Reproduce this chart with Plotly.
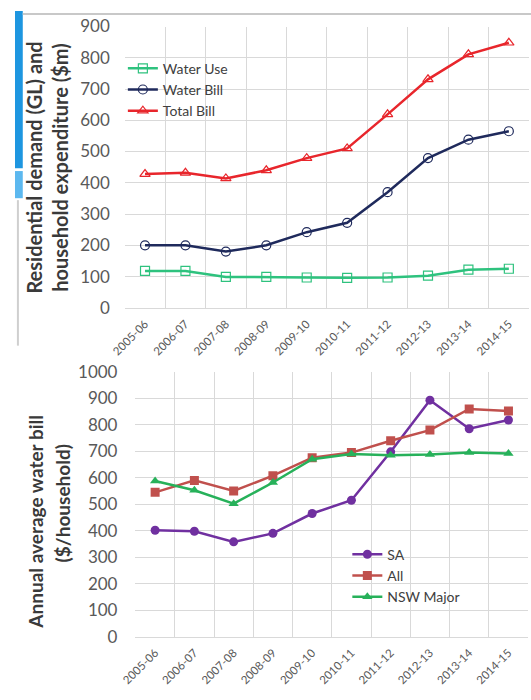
import plotly.graph_objects as go

# Financial years shared by both panels
years = ["2005-06", "2006-07", "2007-08", "2008-09", "2009-10",
         "2010-11", "2011-12", "2012-13", "2013-14", "2014-15"]

# Top panel: residential demand (GL) and household expenditure ($m)
water_use = [118, 118, 99, 99, 97, 96, 97, 103, 122, 125]
water_bill = [200, 200, 180, 200, 242, 272, 370, 479, 538, 565]
total_bill = [428, 432, 414, 440, 479, 510, 619, 731, 811, 848]

# Bottom panel: annual average water bill ($/household)
sa = [402, 398, 358, 390, 465, 515, 698, 893, 785, 818]
all_util = [545, 590, 550, 608, 676, 695, 740, 780, 860, 852]
nsw_major = [588, 553, 502, 582, 670, 690, 685, 688, 695, 692]

W, H = 531, 700
FONT = "Lato"
TICK_COL = "#595959"
TITLE_COL = "#3a3a3a"
GRID = "#d9d9d9"


def px_x(v):
    return v / W


def px_y(v):
    return 1 - v / H


fig = go.Figure()

top_series = [
    ("Water Use", water_use, "#2ec27e", "square-open"),
    ("Water Bill", water_bill, "#1f2a5c", "circle-open"),
    ("Total Bill", total_bill, "#e8262c", "triangle-up-open"),
]
for name, vals, col, sym in top_series:
    fig.add_trace(go.Scatter(
        x=years, y=vals, name=name, mode="lines+markers",
        line=dict(color=col, width=2.5),
        marker=dict(symbol=sym, size=9, color=col, line=dict(width=1.2, color=col)),
        xaxis="x", yaxis="y", legend="legend",
    ))

bottom_series = [
    ("SA", sa, "#7030a0", "circle"),
    ("All", all_util, "#c0504d", "square"),
    ("NSW Major", nsw_major, "#27b15a", "triangle-up"),
]
for name, vals, col, sym in bottom_series:
    fig.add_trace(go.Scatter(
        x=years, y=vals, name=name, mode="lines+markers",
        line=dict(color=col, width=2.5),
        marker=dict(symbol=sym, size=9, color=col),
        xaxis="x2", yaxis="y2", legend="legend2",
    ))

xcommon = dict(
    type="category", tickson="boundaries", showgrid=True, gridcolor=GRID,
    gridwidth=1, tickangle=-45, ticks="", showline=True, linecolor=GRID,
    tickfont=dict(family=FONT, size=11.5, color=TICK_COL), ticklabelstandoff=4,
    range=[-0.5, 9.5], fixedrange=True,
)
ycommon = dict(
    showgrid=True, gridcolor=GRID, gridwidth=1, zeroline=False, ticks="",
    dtick=100, showline=False,
    tickfont=dict(family=FONT, size=17, color=TICK_COL), fixedrange=True,
)

legend_font = dict(family=FONT, size=14, color="#404040")

fig.update_layout(
    width=W, height=H,
    margin=dict(l=0, r=0, t=0, b=0),
    paper_bgcolor="white", plot_bgcolor="white",
    font=dict(family=FONT, color=TITLE_COL),
    showlegend=True,
    xaxis=dict(**xcommon, domain=[px_x(113), px_x(529)], anchor="y"),
    yaxis=dict(**ycommon, range=[0, 900], domain=[px_y(306), px_y(16)],
               anchor="x", ticklabelstandoff=14),
    xaxis2=dict(**xcommon, domain=[px_x(124), px_x(528)], anchor="y2"),
    yaxis2=dict(**ycommon, range=[0, 1000], domain=[px_y(645), px_y(372)],
                anchor="x2", ticklabelstandoff=17),
    legend=dict(x=px_x(111), y=px_y(43), xanchor="left", yanchor="top",
                bgcolor="rgba(0,0,0,0)", font=legend_font),
    legend2=dict(x=px_x(342), y=px_y(544), xanchor="left", yanchor="top",
                 bgcolor="rgba(0,0,0,0)", font=legend_font),
)

# Rotated axis titles, one annotation per line
titles = [
    ("Residential demand (GL) and", 20, 161, 20),
    ("household expenditure ($m)", 46, 161, 20),
    ("Annual average water bill", 21, 526, 19),
    ("($/household)", 49, 508, 19),
]
for text, xc, yc, size in titles:
    fig.add_annotation(
        text=text, xref="paper", yref="paper", x=px_x(xc), y=px_y(yc),
        xanchor="center", yanchor="middle", textangle=-90, showarrow=False,
        font=dict(family=FONT, size=size, color=TITLE_COL, weight="bold"),
    )

# Page frame: blue side tab and light borders
fig.add_shape(type="rect", xref="paper", yref="paper",
              x0=0, x1=px_x(8), y0=px_y(162), y1=1,
              fillcolor="#1e96e0", line_width=0, layer="below")
fig.add_shape(type="rect", xref="paper", yref="paper",
              x0=0, x1=px_x(8), y0=px_y(193), y1=px_y(165),
              fillcolor="#5cb8ef", line_width=0, layer="below")
fig.add_shape(type="line", xref="paper", yref="paper",
              x0=px_x(8), x1=1, y0=px_y(3), y1=px_y(3),
              line=dict(color="#c8c8c8", width=2))
fig.add_shape(type="line", xref="paper", yref="paper",
              x0=px_x(3), x1=px_x(3), y0=px_y(345), y1=px_y(195),
              line=dict(color="#cfcfcf", width=2))

fig.write_html("out.html")
